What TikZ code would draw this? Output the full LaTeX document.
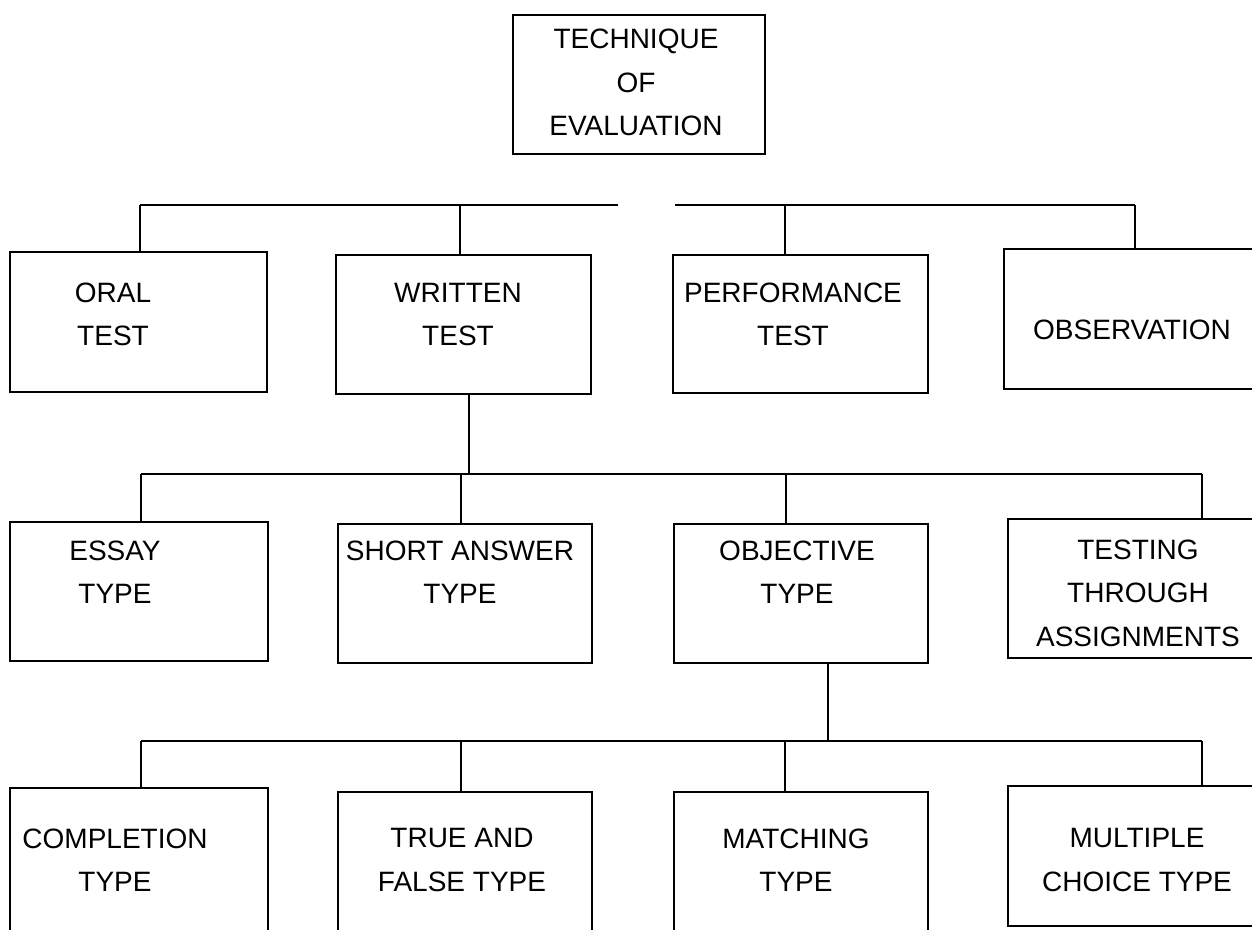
\documentclass[tikz,border=0pt]{standalone}
\usepackage{fontspec}
\setmainfont{Liberation Sans}
\begin{document}
\begin{tikzpicture}[x=1pt,y=-1pt,
  box/.style={draw=black, line width=1.5pt, rectangle, inner sep=0pt, outer sep=0pt},
  lbl/.style={inner sep=0pt, align=center, font=\fontsize{28}{43.5}\selectfont},
  conn/.style={draw=black, line width=1.5pt}]
\useasboundingbox (0,0) rectangle (1252,929);
\clip (0,0) rectangle (1252,929);
% boxes
\node[box, minimum width=252, minimum height=139] (top) at (639,84.5) {};
\node[box, minimum width=257, minimum height=140] (oral) at (138.5,322) {};
\node[box, minimum width=255, minimum height=139] (written) at (463.5,324.5) {};
\node[box, minimum width=255, minimum height=138] (perf) at (800.5,324) {};
\node[box, minimum width=258, minimum height=140] (obs) at (1133,319) {};
\node[box, minimum width=258, minimum height=139] (essay) at (139,591.5) {};
\node[box, minimum width=254, minimum height=139] (short) at (465,593.5) {};
\node[box, minimum width=254, minimum height=139] (obj) at (801,593.5) {};
\node[box, minimum width=254, minimum height=139] (assign) at (1135,588.5) {};
\node[box, minimum width=258, minimum height=152] (compl) at (139,864) {};
\node[box, minimum width=254, minimum height=148] (truef) at (465,866) {};
\node[box, minimum width=254, minimum height=148] (match) at (801,866) {};
\node[box, minimum width=254, minimum height=140] (mult) at (1135,856) {};
% labels
\node[lbl] (topt) at (636,82.5) {TECHNIQUE\\OF\\EVALUATION};
\node[lbl] (oralt) at (113,314.5) {ORAL\\TEST};
\node[lbl] (writtent) at (458,314.5) {WRITTEN\\TEST};
\node[lbl] (perft) at (793,314.5) {PERFORMANCE\\TEST};
\node[lbl] (obst) at (1132,330) {OBSERVATION};
\node[lbl] (essayt) at (115,572) {ESSAY\\TYPE};
\node[lbl] (shortt) at (460,572) {SHORT ANSWER\\TYPE};
\node[lbl] (objt) at (797,572) {OBJECTIVE\\TYPE};
\node[lbl] (assignt) at (1138,593) {TESTING\\THROUGH\\ASSIGNMENTS};
\node[lbl] (complt) at (115,860) {COMPLETION\\TYPE};
\node[lbl] (truet) at (462,860) {TRUE AND\\FALSE TYPE};
\node[lbl] (matcht) at (796,860) {MATCHING\\TYPE};
\node[lbl] (multt) at (1137,860) {MULTIPLE\\CHOICE TYPE};
% bus 1
\coordinate (a1) at (140,205);
\coordinate (a2) at (460,205);
\coordinate (ag1) at (618,205);
\coordinate (ag2) at (675,205);
\coordinate (a3) at (785,205);
\coordinate (a4) at (1135,205);
\draw[conn] (a1) -- (ag1);
\draw[conn] (ag2) -- (a4);
\draw[conn] (a1) -- (a1 |- oral.north);
\draw[conn] (a2) -- (a2 |- written.north);
\draw[conn] (a3) -- (a3 |- perf.north);
\draw[conn] (a4) -- (a4 |- obs.north);
% bus 2
\coordinate (w0) at (469,474);
\coordinate (b1) at (141,474);
\coordinate (b2) at (461,474);
\coordinate (b3) at (786,474);
\coordinate (b4) at (1202,474);
\draw[conn] (w0 |- written.south) -- (w0);
\draw[conn] (b1) -- (b4);
\draw[conn] (b1) -- (b1 |- essay.north);
\draw[conn] (b2) -- (b2 |- short.north);
\draw[conn] (b3) -- (b3 |- obj.north);
\draw[conn] (b4) -- (b4 |- assign.north);
% bus 3
\coordinate (o0) at (828,741);
\coordinate (c1) at (141,741);
\coordinate (c2) at (461,741);
\coordinate (c3) at (785,741);
\coordinate (c4) at (1202,741);
\draw[conn] (o0 |- obj.south) -- (o0);
\draw[conn] (c1) -- (c4);
\draw[conn] (c1) -- (c1 |- compl.north);
\draw[conn] (c2) -- (c2 |- truef.north);
\draw[conn] (c3) -- (c3 |- match.north);
\draw[conn] (c4) -- (c4 |- mult.north);
\end{tikzpicture}
\end{document}
